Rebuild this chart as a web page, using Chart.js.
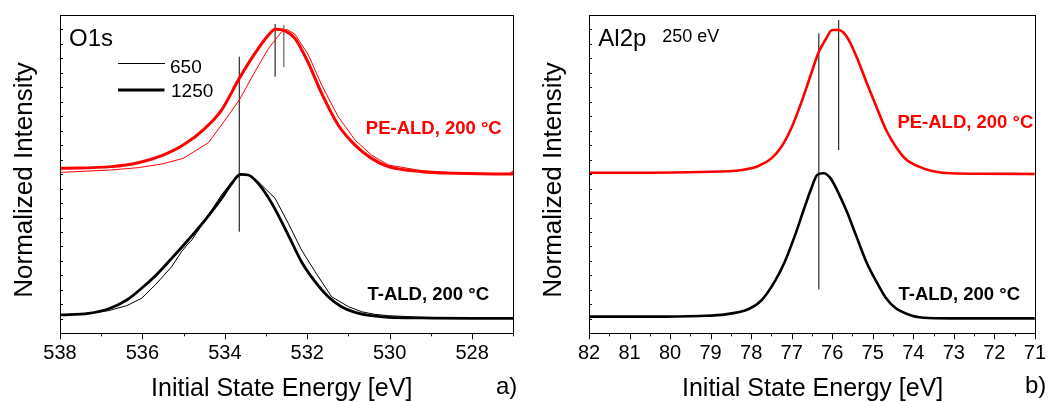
<!DOCTYPE html>
<html>
<head>
<meta charset="utf-8">
<script src="https://cdn.jsdelivr.net/npm/chart.js@4.4.1/dist/chart.umd.min.js"></script>
<style>
  html, body { margin: 0; padding: 0; background: #fff; }
  .panel { position: absolute; top: 0; width: 527px; height: 402px; }
</style>
</head>
<body>
<div class="panel" style="left:0"><canvas id="o1s" width="527" height="402"></canvas></div>
<div class="panel" style="left:527px"><canvas id="al2p" width="527" height="402"></canvas></div>
<script>
// O1s spectra, binding energy [eV] vs normalized intensity (offset stacked)
const o1sE_peThick = [538.00, 536.75, 536.10, 535.53, 535.01, 534.48, 534.08, 533.65, 533.27, 532.94, 532.78, 532.54, 532.30, 531.97, 531.65, 531.25, 530.84, 530.44, 530.03, 529.22, 528.42, 527.12, 527.00];
const o1sI_peThick = [11.40, 11.52, 11.79, 12.28, 13.01, 14.17, 15.43, 17.62, 19.35, 20.62, 21.01, 20.91, 20.38, 18.66, 16.58, 14.40, 13.01, 12.09, 11.52, 11.17, 11.06, 11.01, 11.02];
const o1sE_peThin = [538.00, 536.75, 536.10, 535.53, 535.01, 534.40, 534.08, 533.65, 533.27, 532.94, 532.62, 532.50, 532.30, 531.97, 531.65, 531.25, 530.84, 530.44, 530.03, 529.22, 528.42, 527.12, 527.00];
const o1sI_peThin = [11.12, 11.29, 11.45, 11.70, 12.09, 13.17, 14.40, 16.12, 18.08, 19.69, 20.85, 21.00, 20.68, 19.23, 17.16, 14.97, 13.36, 12.32, 11.63, 11.24, 11.10, 11.01, 11.22];
const o1sE_tThick = [538.00, 537.31, 536.83, 536.38, 536.02, 535.69, 535.29, 534.89, 534.48, 534.08, 533.83, 533.63, 533.43, 533.19, 532.86, 532.46, 532.14, 531.81, 531.49, 531.17, 530.84, 530.44, 530.03, 529.22, 528.01, 527.00];
const o1sI_tThick = [1.27, 1.38, 1.68, 2.30, 3.11, 3.96, 5.18, 6.45, 7.83, 9.33, 10.36, 10.99, 10.94, 10.36, 8.98, 6.79, 4.95, 3.57, 2.53, 1.84, 1.45, 1.22, 1.10, 1.06, 1.03, 1.03];
const o1sE_tThin = [538.00, 537.31, 536.83, 536.38, 536.02, 535.69, 535.29, 535.05, 534.92, 534.80, 534.48, 534.08, 533.83, 533.59, 533.35, 533.11, 532.78, 532.46, 532.14, 531.81, 531.41, 531.00, 530.68, 530.36, 530.03, 529.22, 528.01, 527.00];
const o1sI_tThin = [1.27, 1.36, 1.56, 1.91, 2.42, 3.34, 4.60, 5.64, 6.10, 6.45, 7.83, 9.56, 10.48, 10.99, 10.89, 10.25, 9.33, 7.60, 5.76, 4.26, 2.53, 1.84, 1.49, 1.31, 1.22, 1.10, 1.06, 1.06];
// peak position markers
const o1sMarkE = [533.65, 532.78, 532.57];
const o1sMarkLow = [7.02, 17.73, 18.38];
const o1sMarkHigh = [19.12, 21.38, 21.31];
const o1sMarkColor = ['#000', '#000', '#888'];

// Al2p spectra (250 eV)
const al2pE_pe = [82.00, 80.48, 79.27, 78.22, 77.82, 77.50, 77.25, 77.01, 76.77, 76.53, 76.33, 76.16, 76.00, 75.84, 75.64, 75.40, 75.16, 74.91, 74.67, 74.43, 74.19, 73.86, 73.54, 73.06, 72.41, 71.00];
const al2pI_pe = [11.10, 11.10, 11.15, 11.29, 11.56, 12.09, 12.90, 14.17, 15.89, 17.85, 19.46, 20.32, 20.96, 20.96, 20.50, 19.12, 17.39, 15.66, 14.05, 12.90, 12.05, 11.52, 11.22, 11.06, 11.03, 11.01];
const al2pE_t = [82.00, 80.48, 79.27, 78.63, 78.06, 77.74, 77.42, 77.17, 76.93, 76.69, 76.53, 76.37, 76.21, 76.04, 75.88, 75.64, 75.40, 75.16, 74.91, 74.67, 74.43, 74.03, 73.62, 72.82, 71.00];
const al2pI_t = [1.15, 1.15, 1.20, 1.31, 1.68, 2.30, 3.57, 4.95, 6.68, 8.64, 9.90, 10.94, 11.06, 10.71, 9.90, 8.41, 6.68, 4.95, 3.57, 2.42, 1.73, 1.22, 1.06, 1.03, 1.03];
const al2pMarkE = [76.33, 75.84];
const al2pMarkLow = [3.04, 12.67];
const al2pMarkHigh = [20.73, 21.65];

const FONT = '"Liberation Sans", Arial, sans-serif';
const RED = '#ff0000';

function pts(xs, ys) {
  return xs.map((x, i) => ({ x: x, y: ys[i] }));
}

function curve(xs, ys, color, width, smooth) {
  return {
    data: pts(xs, ys),
    borderColor: color,
    borderWidth: width,
    pointRadius: 0,
    fill: false,
    cubicInterpolationMode: smooth ? 'monotone' : 'default',
    tension: 0
  };
}

function markers(es, lo, hi, colors) {
  return es.map((e, i) => ({
    data: [{ x: e, y: lo[i] }, { x: e, y: hi[i] }],
    borderColor: colors ? colors[i] : '#000',
    borderWidth: colors && colors[i] !== '#000' ? 1.6 : 1,
    pointRadius: 0,
    fill: false
  }));
}

function line(c, x1, y1, x2, y2) {
  c.beginPath(); c.moveTo(x1, y1); c.lineTo(x2, y2); c.stroke();
}

function text(c, s, x, y, size, color, align, bold) {
  c.font = (bold ? 'bold ' : '') + size + 'px ' + FONT;
  c.fillStyle = color;
  c.textAlign = align || 'left';
  c.textBaseline = 'alphabetic';
  c.fillText(s, x, y);
}

// frame, inward y ticks, outward x ticks and the annotation texts
function decor(draw) {
  return {
    id: 'decor',
    afterDraw(chart) {
      const c = chart.ctx, a = chart.chartArea;
      const xs = chart.scales.x, ys = chart.scales.y;
      c.save();
      c.strokeStyle = '#000';
      c.lineWidth = 1;
      c.strokeRect(Math.round(a.left) + 0.5, Math.round(a.top) + 0.5, Math.round(a.right - a.left), Math.round(a.bottom - a.top));
      for (let v = ys.min + 1; v < ys.max; v++) {
        const y = Math.round(ys.getPixelForValue(v)) + 0.5;
        line(c, a.left, y, a.left + 3, y);
      }
      xs.ticks.forEach(t => {
        const x = Math.round(xs.getPixelForValue(t.value)) + 0.5;
        const major = Math.abs(t.value - Math.round(t.value)) < 1e-6 && (draw.step === 0.5 || Math.round(t.value) % 2 === 0);
        line(c, x, a.bottom, x, a.bottom + (major ? 6 : 3));
      });
      draw.texts(c);
      c.save();
      c.translate(draw.yTitleX, 180);
      c.rotate(-Math.PI / 2);
      text(c, 'Normalized Intensity', 0, 0, 26, '#000', 'center');
      c.restore();
      c.restore();
    }
  };
}

function makeChart(id, cfg) {
  return new Chart(document.getElementById(id), {
    type: 'line',
    data: { datasets: cfg.datasets },
    options: {
      responsive: false,
      animation: false,
      devicePixelRatio: 1,
      events: [],
      layout: { padding: cfg.padding },
      plugins: { legend: { display: false }, tooltip: { enabled: false } },
      scales: {
        x: {
          type: 'linear',
          reverse: true,
          min: cfg.min,
          max: cfg.max,
          afterFit: s => { s.height = 68.7; },
          grid: { display: false, drawTicks: false },
          border: { display: false },
          ticks: {
            stepSize: cfg.step,
            autoSkip: false,
            maxRotation: 0,
            padding: 8,
            color: '#000',
            font: { family: FONT, size: 20 },
            callback: cfg.label
          }
        },
        y: { display: false, min: 0, max: 22 }
      }
    },
    plugins: [decor(cfg)]
  });
}

makeChart('o1s', {
  min: 527, max: 538, step: 1,
  padding: { left: 60, top: 15, right: 13.7, bottom: 0 },
  label: v => (v % 2 === 0 ? String(v) : ''),
  datasets: [
    curve(o1sE_peThick, o1sI_peThick, RED, 3, true),
    curve(o1sE_peThin, o1sI_peThin, RED, 1, false),
    curve(o1sE_tThick, o1sI_tThick, '#000', 2.8, true),
    curve(o1sE_tThin, o1sI_tThin, '#000', 1, false)
  ].concat(markers(o1sMarkE, o1sMarkLow, o1sMarkHigh, o1sMarkColor)),
  yTitleX: 32,
  texts: c => {
    text(c, 'O1s', 69, 46, 24, '#000');
    c.lineWidth = 1; line(c, 118, 63.5, 165, 63.5);
    c.lineWidth = 3; line(c, 118, 90, 164.5, 90);
    text(c, '650', 170, 72.7, 19, '#000');
    text(c, '1250', 171, 97.3, 19, '#000');
    text(c, 'PE-ALD, 200 °C', 501.7, 133.5, 18.5, RED, 'right', true);
    text(c, 'T-ALD, 200 °C', 489, 299.7, 18.5, '#000', 'right', true);
    text(c, 'Initial State Energy [eV]', 281.7, 396, 25, '#000', 'center');
    text(c, 'a)', 496, 394, 24, '#000');
  }
});

makeChart('al2p', {
  min: 71, max: 82, step: 0.5,
  padding: { left: 62, top: 15, right: 10.7, bottom: 0 },
  label: v => (Math.abs(v - Math.round(v)) < 1e-6 ? String(Math.round(v)) : ''),
  datasets: [
    curve(al2pE_pe, al2pI_pe, RED, 2.6, true),
    curve(al2pE_t, al2pI_t, '#000', 2.6, true)
  ].concat(markers(al2pMarkE, al2pMarkLow, al2pMarkHigh)),
  yTitleX: 34,
  texts: c => {
    text(c, 'Al2p', 71.3, 46, 24, '#000');
    text(c, '250 eV', 135.3, 42.3, 18, '#000');
    text(c, 'PE-ALD, 200 °C', 506.3, 128.1, 18.5, RED, 'right', true);
    text(c, 'T-ALD, 200 °C', 493, 299.7, 18.5, '#000', 'right', true);
    text(c, 'Initial State Energy [eV]', 285.6, 396, 25, '#000', 'center');
    text(c, 'b)', 498, 393, 24, '#000');
  }
});
</script>
</body>
</html>
